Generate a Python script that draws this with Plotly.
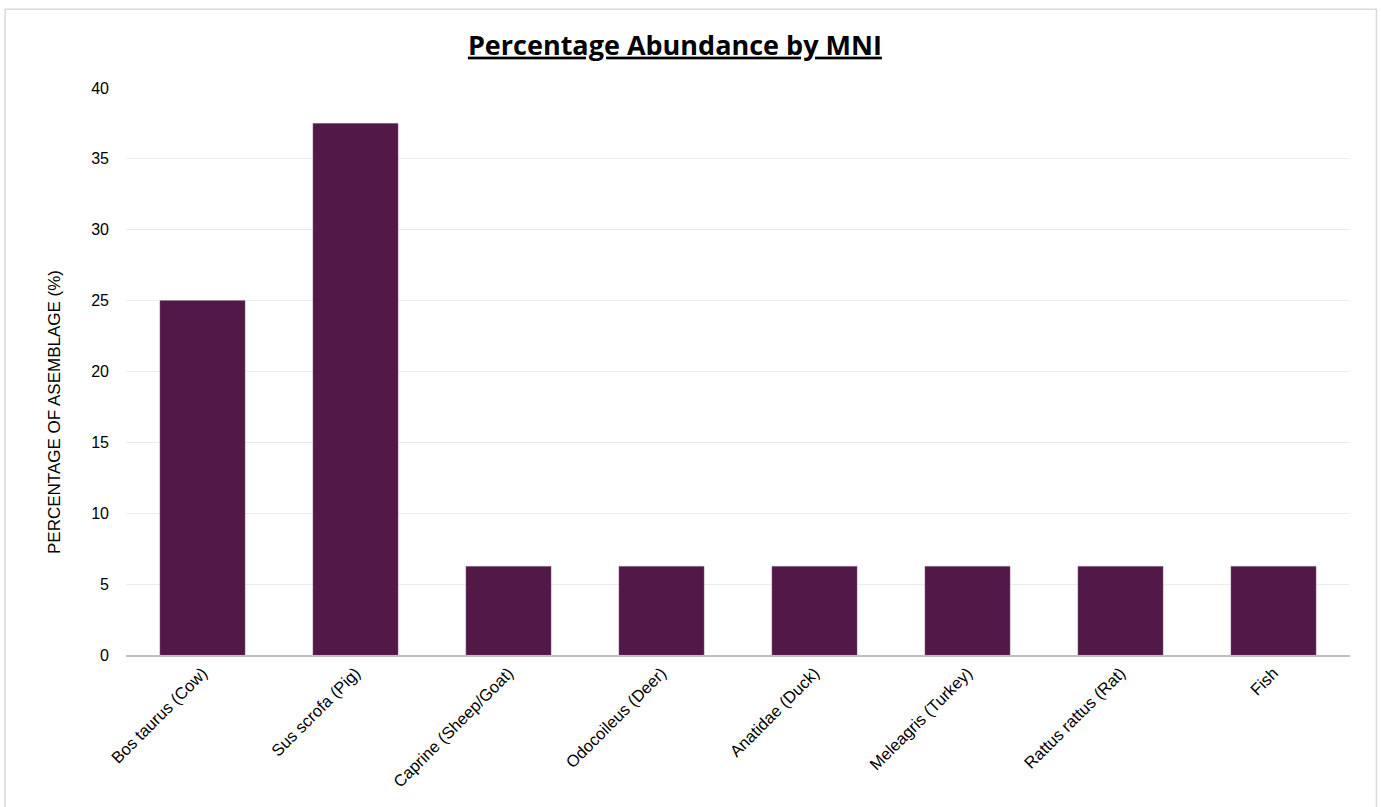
import plotly.graph_objects as go

categories = ["Bos taurus (Cow)", "Sus scrofa (Pig)", "Caprine (Sheep/Goat)", "Odocoileus (Deer)",
              "Anatidae (Duck)", "Meleagris (Turkey)", "Rattus rattus (Rat)", "Fish"]
values = [25, 37.5, 6.25, 6.25, 6.25, 6.25, 6.25, 6.25]
y_ticks = [0, 5, 10, 15, 20, 25, 30, 35, 40]

fig = go.Figure()
fig.add_trace(go.Bar(x=categories, y=values, marker=dict(color="#521848", line=dict(color="#6a3a62", width=0.5))))

fig.update_layout(
    width=1381, height=807,
    margin=dict(l=126, r=31, t=88, b=152),
    plot_bgcolor="white", paper_bgcolor="white",
    bargap=0.445,
    showlegend=False,
    title=dict(text="<u><b>Percentage Abundance by MNI</b></u>", x=0.4887, xanchor="center",
               y=0.944, yanchor="middle",
               font=dict(family="Open Sans, Lato, sans-serif", size=27, color="#000000")),
    font=dict(family="Liberation Sans, Arial, sans-serif", size=16, color="#000000"),
    xaxis=dict(tickangle=-45, showgrid=False, showline=True, linecolor="#bfbfbf", linewidth=2,
               tickfont=dict(size=16.5), ticks=""),
    yaxis=dict(range=[0, 40], tickvals=y_ticks, showgrid=True, gridcolor="#ececec", gridwidth=1,
               zeroline=False, showline=False, ticks="", ticklabelstandoff=16),
    annotations=[dict(text="PERCENTAGE OF ASEMBLAGE (%)", xref="paper", yref="paper",
                      x=-0.058, y=0.4286, xanchor="center", yanchor="middle", textangle=-90,
                      showarrow=False, font=dict(size=17))],
    shapes=[dict(type="rect", xref="paper", yref="paper", x0=-0.0988, x1=1.0216, y0=-0.35, y1=1.139,
                 line=dict(color="#d9d9d9", width=1.5), fillcolor="rgba(0,0,0,0)", layer="below")],
)

fig.write_html("out.html")
